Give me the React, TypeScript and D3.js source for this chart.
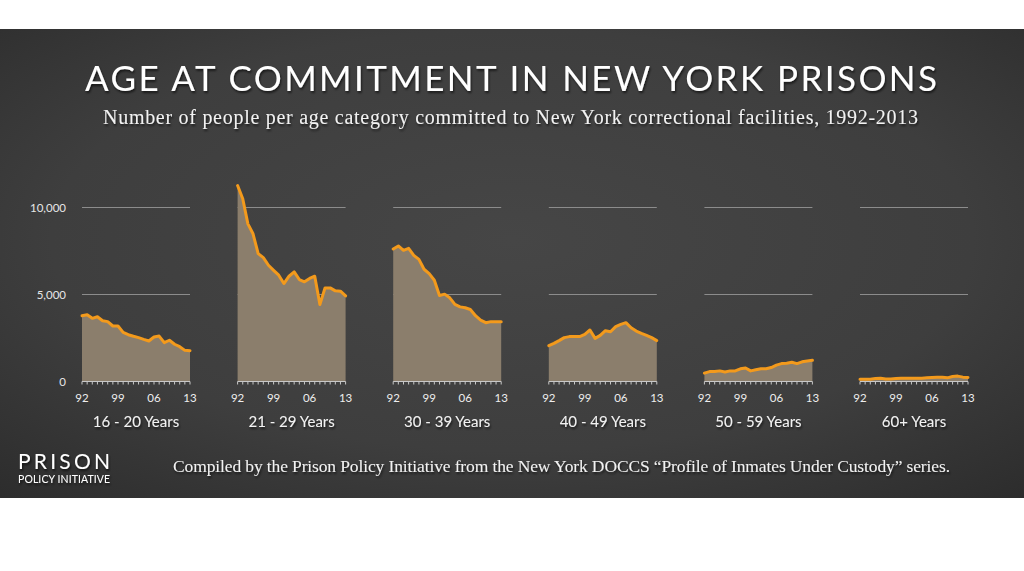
import React from 'react';
import * as d3 from 'd3';

const years = [1992, 1993, 1994, 1995, 1996, 1997, 1998, 1999, 2000, 2001, 2002, 2003, 2004, 2005, 2006, 2007, 2008, 2009, 2010, 2011, 2012, 2013];

const categories = ['16 - 20 Years', '21 - 29 Years', '30 - 39 Years', '40 - 49 Years', '50 - 59 Years', '60+ Years'];

const age16to20 = [3780, 3840, 3630, 3720, 3490, 3440, 3190, 3190, 2820, 2690, 2600, 2520, 2420, 2330, 2560, 2610, 2230, 2370, 2140, 2000, 1790, 1770];
const age21to29 = [11260, 10500, 9060, 8490, 7350, 7120, 6680, 6390, 6110, 5630, 6050, 6300, 5860, 5730, 5920, 6050, 4420, 5380, 5380, 5210, 5190, 4920];
const age30to39 = [7610, 7790, 7540, 7650, 7250, 7020, 6450, 6200, 5820, 4940, 5020, 4810, 4430, 4290, 4240, 4140, 3780, 3530, 3380, 3440, 3440, 3440];
const age40to49 = [2060, 2190, 2350, 2520, 2580, 2580, 2580, 2710, 2960, 2480, 2650, 2920, 2860, 3150, 3280, 3380, 3090, 2900, 2770, 2650, 2520, 2350];
const age50to59 = [480, 570, 570, 610, 550, 610, 610, 730, 780, 610, 670, 730, 730, 800, 940, 1030, 1050, 1110, 1030, 1130, 1180, 1220];
const age60plus = [130, 130, 130, 170, 190, 150, 150, 170, 190, 190, 190, 190, 190, 210, 230, 250, 250, 210, 290, 310, 250, 230];

const seriesValues = [age16to20, age21to29, age30to39, age40to49, age50to59, age60plus];

const yTicks = [0, 5000, 10000];
const yTickLabels = ['0', '5,000', '10,000'];
const gridTicks = [5000, 10000];
const xLabelYears = [1992, 1999, 2006, 2013];
const xLabelTexts = ['92', '99', '06', '13'];

const titleText = 'AGE AT COMMITMENT IN NEW YORK PRISONS';
const subtitleText = 'Number of people per age category committed to New York correctional facilities, 1992-2013';
const footerText = 'Compiled by the Prison Policy Initiative from the New York DOCCS \u201CProfile of Inmates Under Custody\u201D series.';

export default function App() {
  const W = 1024;
  const H = 571;
  const panelW = 108;
  const panelX = d3.scalePoint<string>().domain(categories).range([82, 860]);
  const y = d3.scaleLinear().domain([0, 10000]).range([381.5, 207.5]);

  const sans = 'Lato, "Open Sans", sans-serif';
  const serif = '"Liberation Serif", "DejaVu Serif", serif';

  return (
    <svg width={W} height={H} style={{ position: 'absolute', left: 0, top: 0, background: '#ffffff' }}>
      <defs>
        <radialGradient id="bg" cx="50%" cy="45%" r="75%">
          <stop offset="0%" stopColor="#464646" />
          <stop offset="60%" stopColor="#3e3e3e" />
          <stop offset="100%" stopColor="#2c2c2c" />
        </radialGradient>
        <filter id="shadow" x="-5%" y="-20%" width="110%" height="160%">
          <feDropShadow dx="1" dy="2" stdDeviation="1.2" floodColor="#000" floodOpacity="0.6" />
        </filter>
      </defs>
      <rect x={0} y={0} width={W} height={H} fill="#ffffff" />
      <rect x={0} y={29} width={W} height={469} fill="url(#bg)" />

      <text x={511} y={91} textAnchor="middle" fill="#ffffff" fontFamily={sans} fontSize={35}
        textLength={852} lengthAdjust="spacing" filter="url(#shadow)">{titleText}</text>
      <text x={510.5} y={124} textAnchor="middle" fill="#f2f2f2" fontFamily={serif} fontSize={20}
        textLength={815} lengthAdjust="spacing" filter="url(#shadow)">{subtitleText}</text>

      {yTicks.map((t, i) => (
        <text key={'yl' + t} x={66} y={y(t) + 4} textAnchor="end" fill="#e6e6e6" fontFamily={sans} fontSize={11.5}>
          {yTickLabels[i]}
        </text>
      ))}

      {categories.map((cat, ci) => {
        const x0 = panelX(cat) as number;
        const x = d3.scaleLinear().domain([years[0], years[years.length - 1]]).range([x0, x0 + panelW]);
        const vals = seriesValues[ci];
        const area = d3.area<number>().x((_, i) => x(years[i])).y0(y(0)).y1((d) => y(d));
        const line = d3.line<number>().x((_, i) => x(years[i])).y((d) => y(d));
        return (
          <g key={cat}>
            {gridTicks.map((t) => (
              <line key={'g' + t} x1={x0} x2={x0 + panelW} y1={y(t)} y2={y(t)} stroke="#8c8c8c" strokeWidth={1.2} />
            ))}
            <path d={area(vals) || ''} fill="#8b7e6c" />
            <line x1={x0} x2={x0 + panelW} y1={y(0)} y2={y(0)} stroke="#c8c8c8" strokeWidth={1.2} />
            {years.map((yr) => (
              <line key={'t' + yr} x1={x(yr)} x2={x(yr)} y1={y(0)} y2={y(0) + 3} stroke="#c8c8c8" strokeWidth={1} />
            ))}
            <path d={line(vals) || ''} fill="none" stroke="#f39a1c" strokeWidth={3} strokeLinejoin="round" strokeLinecap="round" />
            {xLabelYears.map((yr, i) => (
              <text key={'xl' + yr} x={x(yr)} y={402} textAnchor="middle" fill="#eeeeee" fontFamily={sans} fontSize={11.5}>
                {xLabelTexts[i]}
              </text>
            ))}
            <text x={x0 + panelW / 2} y={427} textAnchor="middle" fill="#f2f2f2" fontFamily={sans} fontSize={15}
              filter="url(#shadow)">{cat}</text>
          </g>
        );
      })}

      <text x={18} y={468.5} fill="#ffffff" fontFamily={sans} fontSize={21} textLength={92} lengthAdjust="spacing"
        filter="url(#shadow)">PRISON</text>
      <text x={18} y={482.5} fill="#ffffff" fontFamily={sans} fontSize={10.5} textLength={92} lengthAdjust="spacing"
        filter="url(#shadow)">POLICY INITIATIVE</text>

      <text x={173} y={472} fill="#f2f2f2" fontFamily={serif} fontSize={17.5} textLength={777} lengthAdjust="spacing"
        filter="url(#shadow)">{footerText}</text>
    </svg>
  );
}
